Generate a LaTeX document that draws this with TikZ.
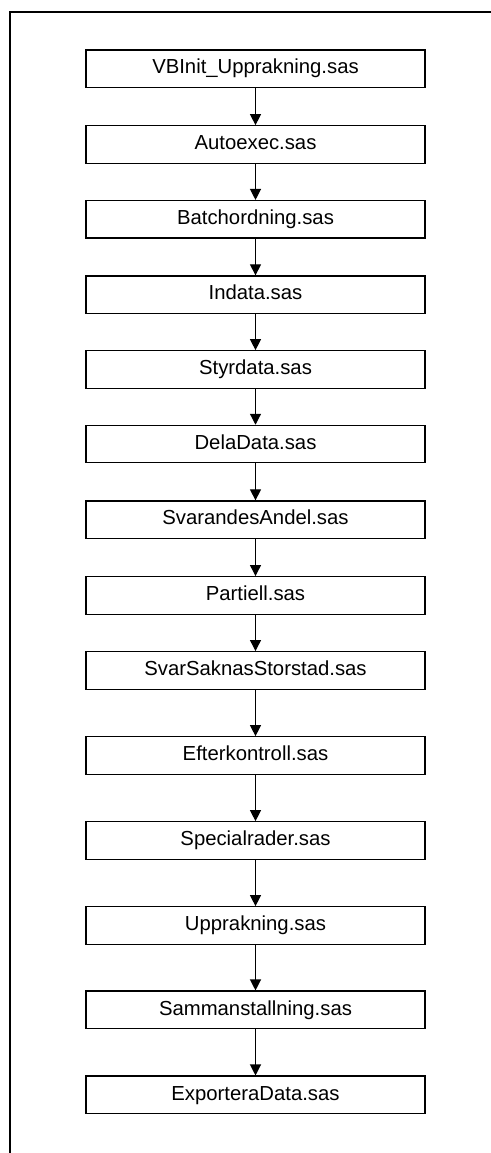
\documentclass[tikz,border=0pt]{standalone}
\usepackage{fontspec}
\setmainfont{Liberation Sans}
\usetikzlibrary{arrows.meta}
\tikzset{
  sasfile/.style={draw,line width=1.2pt,minimum width=339pt,minimum height=37.5pt,inner sep=0pt,
    text height=14.5pt,text depth=4pt,font=\fontsize{20.3}{24}\selectfont},
  flow/.style={->,line width=1.2pt}
}
\begin{document}
\begin{tikzpicture}[line cap=rect,line join=miter,>={Triangle[width=11pt,length=11pt]},x=1pt,y=-1pt]
            \useasboundingbox (0,0) rectangle (490,1153);
            % frame
            \draw [line width=1.3pt] (490,12) -- (10,12) -- (10,1153);
            % program files
            \node [sasfile] (vbinit) at (255.5,68.7) {VBInit\_Upprakning.sas};
            \node [sasfile] (autoexec) at (255.5,144.5) {Autoexec.sas};
            \node [sasfile] (batch) at (255.5,219.3) {Batchordning.sas};
            \node [sasfile] (indata) at (255.5,294.7) {Indata.sas};
            \node [sasfile] (styr) at (255.5,369.5) {Styrdata.sas};
            \node [sasfile] (dela) at (255.5,444.1) {DelaData.sas};
            \node [sasfile] (andel) at (255.5,519.7) {SvarandesAndel.sas};
            \node [sasfile] (partiell) at (255.5,595.4) {Partiell.sas};
            \node [sasfile] (storstad) at (255.5,670.4) {SvarSaknasStorstad.sas};
            \node [sasfile] (efter) at (255.5,755.5) {Efterkontroll.sas};
            \node [sasfile] (special) at (255.5,840.5) {Specialrader.sas};
            \node [sasfile] (uppr) at (255.5,925.5) {Upprakning.sas};
            \node [sasfile] (samman) at (255.5,1009.8) {Sammanstallning.sas};
            \node [sasfile] (export) at (255.5,1094.8) {ExporteraData.sas};
            % run order
            \draw [flow] (vbinit) -- (autoexec);
            \draw [flow] (autoexec) -- (batch);
            \draw [flow] (batch) -- (indata);
            \draw [flow] (indata) -- (styr);
            \draw [flow] (styr) -- (dela);
            \draw [flow] (dela) -- (andel);
            \draw [flow] (andel) -- (partiell);
            \draw [flow] (partiell) -- (storstad);
            \draw [flow] (storstad) -- (efter);
            \draw [flow] (efter) -- (special);
            \draw [flow] (special) -- (uppr);
            \draw [flow] (uppr) -- (samman);
            \draw [flow] (samman) -- (export);
            \end{tikzpicture}
\end{document}
